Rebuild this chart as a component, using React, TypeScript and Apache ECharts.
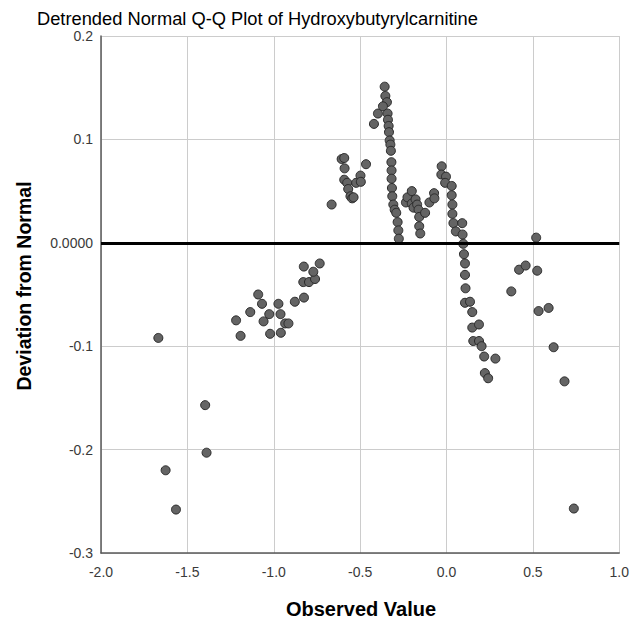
import React, { useEffect, useRef } from "react";
import * as echarts from "echarts";

const chartTitle = "Detrended Normal Q-Q Plot of Hydroxybutyrylcarnitine";
const xAxisTitle = "Observed Value";
const yAxisTitle = "Deviation from Normal";

const observedValues = [
  -1.668, -1.626, -1.566, -1.397, -1.389,
  -1.218, -1.192, -1.136, -1.09, -1.068, -1.059, -1.026, -1.021, -0.973, -0.961,
  -0.959, -0.934, -0.915, -0.878, -0.825, -0.829, -0.796, -0.761, -0.771, -0.826, -0.734,
  -0.665, -0.607, -0.592, -0.59, -0.592, -0.575, -0.569, -0.556, -0.546, -0.538,
  -0.523, -0.498, -0.496, -0.466, -0.42, -0.397,
  -0.358, -0.354, -0.345, -0.368, -0.341, -0.339, -0.335, -0.333, -0.329, -0.325,
  -0.322, -0.319, -0.318, -0.318, -0.316, -0.314, -0.308, -0.3, -0.291, -0.283,
  -0.279, -0.276,
  -0.235, -0.226, -0.201, -0.201, -0.179, -0.191, -0.17, -0.162, -0.158, -0.158,
  -0.152, -0.124, -0.099, -0.072, -0.07,
  -0.028, -0.03, -0.003, -0.008, 0.03, 0.03, 0.034, 0.034, 0.04, 0.054,
  0.091, 0.093, 0.097, 0.101, 0.107, 0.107, 0.11, 0.107, 0.136, 0.149, 0.149,
  0.188, 0.155, 0.188, 0.203, 0.218, 0.283, 0.222, 0.241,
  0.375, 0.42, 0.458, 0.519, 0.525, 0.533, 0.591, 0.62, 0.683, 0.737,
];

const deviations = [
  -0.092, -0.22, -0.258, -0.157, -0.203,
  -0.075, -0.09, -0.067, -0.05, -0.059, -0.076, -0.069, -0.088, -0.059, -0.069,
  -0.087, -0.078, -0.078, -0.057, -0.053, -0.038, -0.038, -0.035, -0.028, -0.023, -0.02,
  0.037, 0.081, 0.082, 0.072, 0.061, 0.058, 0.052, 0.045, 0.043, 0.044,
  0.058, 0.065, 0.059, 0.076, 0.115, 0.125,
  0.151, 0.142, 0.136, 0.132, 0.125, 0.119, 0.113, 0.107, 0.099, 0.095,
  0.089, 0.078, 0.07, 0.062, 0.053, 0.045, 0.037, 0.032, 0.029, 0.02,
  0.012, 0.004,
  0.039, 0.044, 0.05, 0.038, 0.042, 0.034, 0.037, 0.032, 0.025, 0.016,
  0.009, 0.029, 0.039, 0.048, 0.043,
  0.074, 0.066, 0.064, 0.058, 0.055, 0.046, 0.037, 0.028, 0.019, 0.011,
  0.019, 0.008, -0.001, -0.011, -0.02, -0.031, -0.044, -0.058, -0.057, -0.067, -0.082,
  -0.079, -0.095, -0.095, -0.1, -0.11, -0.112, -0.126, -0.131,
  -0.047, -0.026, -0.022, 0.005, -0.027, -0.066, -0.063, -0.101, -0.134, -0.257,
];

const xTicks = { min: -2.0, max: 1.0, interval: 0.5 };
const yTicks = { min: -0.3, max: 0.2, interval: 0.1 };
const referenceValue = 0;

const FONT = "'Liberation Sans', Arial, sans-serif";

export default function App() {
  const ref = useRef<HTMLDivElement>(null);
  useEffect(() => {
    if (!ref.current) return;
    const chart = echarts.init(ref.current, null, { renderer: "svg" });
    const points = observedValues.map((x, i) => [x, deviations[i]]);
    chart.setOption({
      animation: false,
      backgroundColor: "#ffffff",
      textStyle: { fontFamily: FONT },
      grid: { left: 101, right: 10, top: 36, bottom: 70, containLabel: false },
      xAxis: {
        type: "value",
        min: xTicks.min,
        max: xTicks.max,
        interval: xTicks.interval,
        axisLine: { show: true, onZero: false, lineStyle: { color: "#5a5a5a", width: 1.5 } },
        axisTick: { show: false },
        splitLine: { show: true, lineStyle: { color: "#cccccc", width: 1 } },
        axisLabel: {
          color: "#3a3a3a",
          fontSize: 14,
          fontFamily: FONT,
          margin: 12,
          formatter: (v: number) => v.toFixed(1),
        },
      },
      yAxis: {
        type: "value",
        min: yTicks.min,
        max: yTicks.max,
        interval: yTicks.interval,
        axisLine: { show: true, onZero: false, lineStyle: { color: "#5a5a5a", width: 1.5 } },
        axisTick: { show: false },
        splitLine: { show: true, lineStyle: { color: "#cccccc", width: 1 } },
        axisLabel: {
          color: "#3a3a3a",
          fontSize: 14,
          fontFamily: FONT,
          margin: 8,
          formatter: (v: number) => (Math.abs(v) < 1e-9 ? "0.0000" : v.toFixed(1)),
        },
      },
      series: [
        {
          type: "scatter",
          data: points,
          symbol: "circle",
          symbolSize: 9,
          itemStyle: { color: "#646464", borderColor: "#2a2a2a", borderWidth: 1, opacity: 1 },
          markLine: {
            silent: true,
            symbol: "none",
            label: { show: false },
            lineStyle: { color: "#000000", width: 3, type: "solid" },
            data: [{ yAxis: referenceValue }],
          },
          z: 3,
        },
      ],
      graphic: [
        {
          type: "text",
          x: 37,
          y: 18,
          style: {
            text: chartTitle,
            fontSize: 18.3,
            fontWeight: "normal",
            fontFamily: FONT,
            fill: "#000000",
            align: "left",
            verticalAlign: "middle",
          },
        },
        {
          type: "text",
          x: 361,
          y: 609,
          style: {
            text: xAxisTitle,
            fontSize: 20,
            fontWeight: "bold",
            fontFamily: FONT,
            fill: "#000000",
            align: "center",
            verticalAlign: "middle",
          },
        },
        {
          type: "text",
          x: 24,
          y: 286,
          rotation: Math.PI / 2,
          style: {
            text: yAxisTitle,
            fontSize: 19.5,
            fontWeight: "bold",
            fontFamily: FONT,
            fill: "#000000",
            align: "center",
            verticalAlign: "middle",
          },
        },
      ],
    });
    return () => chart.dispose();
  }, []);
  return (
    <div
      ref={ref}
      style={{ position: "fixed", left: 0, top: 0, width: 632, height: 623, background: "#fff" }}
    />
  );
}
